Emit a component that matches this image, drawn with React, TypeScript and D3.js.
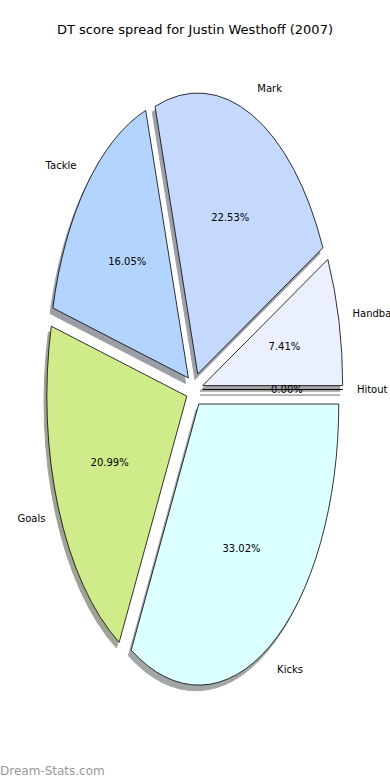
import React, { useEffect, useRef } from 'react';
import * as d3 from 'd3';

const categories = ['Hitout', 'Handball', 'Mark', 'Tackle', 'Goals', 'Kicks'];
const shares = [0.0, 7.41, 22.53, 16.05, 20.99, 33.02];
const colors = ['#d9d9d9', '#eaf0ff', '#c5d9ff', '#b3d4ff', '#d0eb8a', '#dcffff'];
const explode = [0.06, 0.06, 0.06, 0.06, 0.06, 0.06];

const title = 'DT score spread for Justin Westhoff (2007)';
const watermark = 'Dream-Stats.com';

const App = () => {
  const svgRef = useRef<SVGSVGElement>(null);
  const width = 390;
  const height = 780;

  useEffect(() => {
    const svg = d3.select(svgRef.current);
    svg.selectAll('*').remove();

    // pie centre and radii (axes are not equal aspect, so the pie is an ellipse)
    const cx = 194.5;
    const cy = 389.5;
    const rx = 140;
    const ry = 281;

    // matplotlib style: start at 3 o'clock, counter-clockwise
    const pie = d3.pie<number>()
      .sort(null)
      .value(d => d)
      .startAngle(Math.PI / 2)
      .endAngle(Math.PI / 2 - 2 * Math.PI);

    const arcs = pie(shares);
    const arc = d3.arc<d3.PieArcDatum<number>>().innerRadius(0).outerRadius(1);

    const mid = (d: d3.PieArcDatum<number>) => (d.startAngle + d.endAngle) / 2;
    const offset = (d: d3.PieArcDatum<number>, k: number) => {
      const a = mid(d);
      return [rx * k * Math.sin(a), -ry * k * Math.cos(a)];
    };

    const fontFamily = '"DejaVu Sans", sans-serif';

    svg.append('rect')
      .attr('width', width)
      .attr('height', height)
      .attr('fill', '#ffffff');

    // Title
    svg.append('text')
      .attr('x', width / 2)
      .attr('y', 30)
      .attr('text-anchor', 'middle')
      .attr('dominant-baseline', 'middle')
      .style('font-family', fontFamily)
      .style('font-size', '13px')
      .attr('fill', '#000')
      .text(title);

    // Shadows first, below all wedges
    const shadowColor = (c: string) => {
      const rgb = d3.rgb(c);
      return d3.rgb(
        255 * 0.5 + 0.15 * rgb.r,
        255 * 0.5 + 0.15 * rgb.g,
        255 * 0.5 + 0.15 * rgb.b
      ).formatHex();
    };

    arcs.forEach((d, i) => {
      const [ox, oy] = offset(d, explode[i]);
      svg.append('path')
        .attr('transform', `translate(${cx + ox - 0.02 * rx},${cy + oy + 0.02 * ry}) scale(${rx},${ry})`)
        .attr('d', arc(d))
        .attr('fill', shadowColor(colors[i]))
        .attr('stroke', shadowColor(colors[i]))
        .attr('stroke-width', 1)
        .attr('vector-effect', 'non-scaling-stroke');
    });

    // Wedges
    arcs.forEach((d, i) => {
      const [ox, oy] = offset(d, explode[i]);
      svg.append('path')
        .attr('transform', `translate(${cx + ox},${cy + oy}) scale(${rx},${ry})`)
        .attr('d', arc(d))
        .attr('fill', colors[i])
        .attr('stroke', '#000')
        .attr('stroke-width', 0.8)
        .attr('vector-effect', 'non-scaling-stroke');
    });

    // Labels and percentages
    arcs.forEach((d, i) => {
      const [ox, oy] = offset(d, explode[i]);
      const a = mid(d);
      const lx = cx + ox + 1.1 * rx * Math.sin(a);
      const ly = cy + oy - 1.1 * ry * Math.cos(a);
      svg.append('text')
        .attr('x', lx)
        .attr('y', ly)
        .attr('text-anchor', lx > cx ? 'start' : 'end')
        .attr('dominant-baseline', 'middle')
        .style('font-family', fontFamily)
        .style('font-size', '10px')
        .attr('fill', '#000')
        .text(categories[i]);

      const px = cx + ox + 0.6 * rx * Math.sin(a);
      const py = cy + oy - 0.6 * ry * Math.cos(a);
      svg.append('text')
        .attr('x', px)
        .attr('y', py)
        .attr('text-anchor', 'middle')
        .attr('dominant-baseline', 'middle')
        .style('font-family', fontFamily)
        .style('font-size', '10px')
        .attr('fill', '#000')
        .text(`${shares[i].toFixed(2)}%`);
    });

    // Watermark
    svg.append('text')
      .attr('x', 0)
      .attr('y', 775)
      .style('font-family', fontFamily)
      .style('font-size', '12px')
      .attr('fill', '#999999')
      .text(watermark);
  }, []);

  return (
    <svg
      ref={svgRef}
      width={width}
      height={height}
      style={{ position: 'absolute', left: 0, top: 0 }}
    ></svg>
  );
};

export default App;
